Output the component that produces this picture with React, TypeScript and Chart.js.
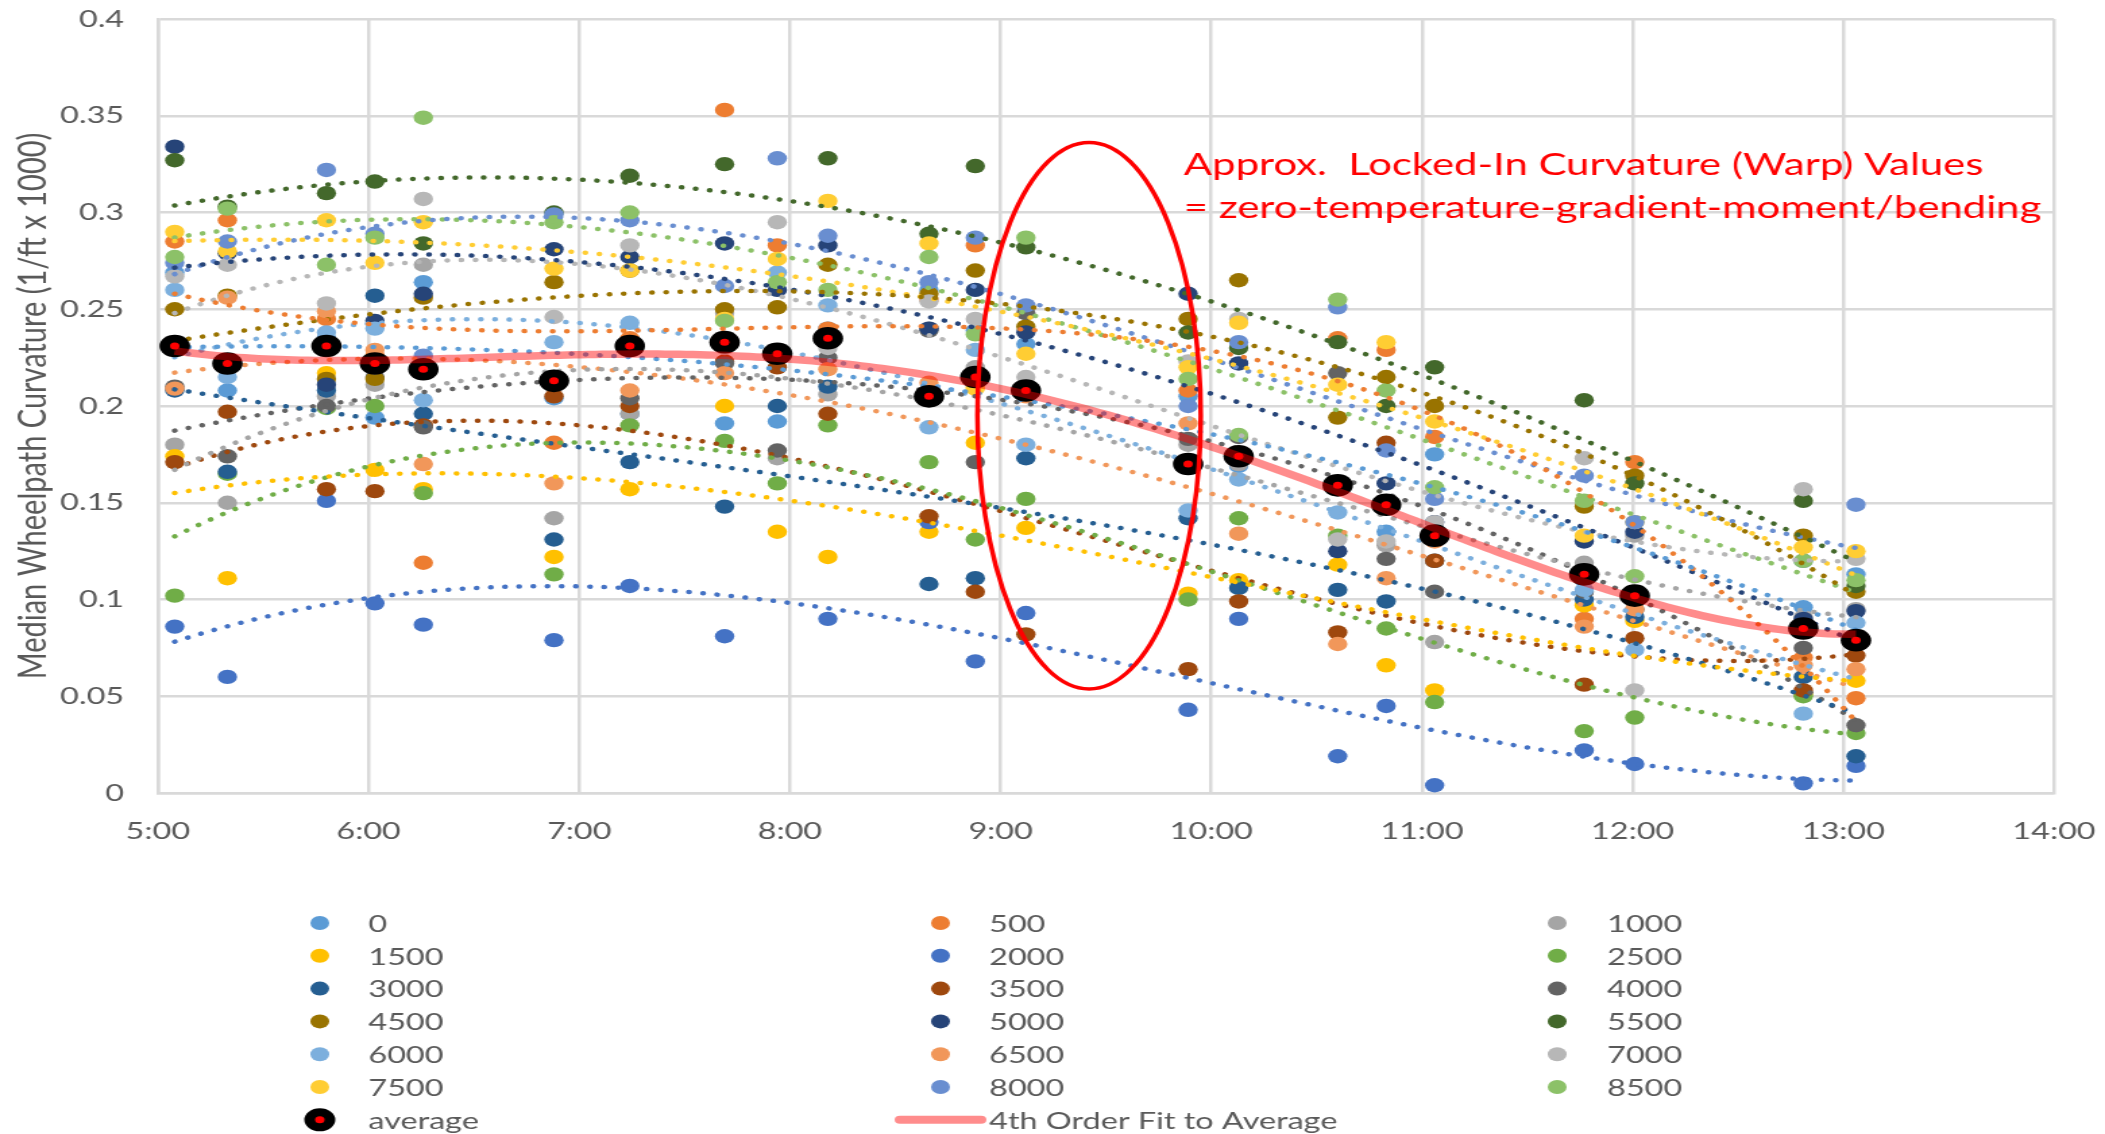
import React, { useEffect, useRef } from "react";
import { Chart, registerables } from "chart.js";

Chart.register(...registerables);

// internal canvas size; the canvas is stretched horizontally to the page width
const CANVAS_W = 1560;
const CANVAS_H = 1134;
const PAGE_W = 2105;

// ---------- data ----------
const times = [5.08, 5.33, 5.8, 6.03, 6.26, 6.88, 7.24, 7.69, 7.94, 8.18, 8.66, 8.88, 9.12, 9.89, 10.13, 10.6, 10.83, 11.06, 11.77, 12.01, 12.81, 13.06];

const seriesNames = ["0", "500", "1000", "1500", "2000", "2500", "3000", "3500", "4000", "4500", "5000", "5500", "6000", "6500", "7000", "7500", "8000", "8500"];
const seriesColors = ["#5B9BD5", "#ED7D31", "#A5A5A5", "#FFC000", "#4472C4", "#70AD47", "#255E91", "#9E480E", "#636363", "#997300", "#264478", "#43682B", "#7CAFDD", "#F1975A", "#B7B7B7", "#FFCD33", "#698ED0", "#8CC168"];

const s0 = [0.269, 0.208, 0.235, 0.194, 0.264, 0.204, 0.196, 0.191, 0.192, 0.24, 0.26, 0.239, 0.232, 0.205, 0.169, 0.16, 0.135, 0.175, 0.11, 0.1, 0.096, 0.113];
const s500 = [0.285, 0.296, 0.245, 0.226, 0.119, 0.181, 0.235, 0.353, 0.283, 0.24, 0.255, 0.283, 0.21, 0.208, 0.175, 0.235, 0.229, 0.184, 0.09, 0.171, 0.07, 0.049];
const s1000 = [0.18, 0.15, 0.205, 0.211, 0.273, 0.142, 0.196, 0.248, 0.173, 0.206, 0.24, 0.22, 0.21, 0.18, 0.17, 0.16, 0.128, 0.078, 0.119, 0.133, 0.091, 0.095];
const s1500 = [0.174, 0.111, 0.217, 0.167, 0.157, 0.122, 0.157, 0.2, 0.135, 0.122, 0.135, 0.181, 0.137, 0.103, 0.11, 0.118, 0.066, 0.053, 0.097, 0.089, 0.051, 0.058];
const s2000 = [0.086, 0.06, 0.151, 0.098, 0.087, 0.079, 0.107, 0.081, null, 0.09, 0.14, 0.068, 0.093, 0.043, 0.09, 0.019, 0.045, 0.004, 0.022, 0.015, 0.005, 0.014];
const s2500 = [0.102, 0.165, 0.199, 0.2, 0.155, 0.113, 0.19, 0.182, 0.16, 0.19, 0.171, 0.131, 0.152, 0.1, 0.142, 0.133, 0.085, 0.047, 0.032, 0.039, 0.05, 0.031];
const s3000 = [0.208, 0.166, 0.208, 0.257, 0.196, 0.131, 0.171, 0.148, 0.2, 0.21, 0.108, 0.111, 0.173, 0.142, 0.106, 0.105, 0.099, 0.12, 0.1, 0.091, 0.06, 0.019];
const s3500 = [0.171, 0.197, 0.157, 0.156, 0.19, 0.205, 0.2, 0.223, 0.22, 0.196, 0.143, 0.104, 0.082, 0.064, 0.099, 0.083, 0.181, 0.12, 0.056, 0.08, 0.053, 0.071];
const s4000 = [0.21, 0.174, 0.2, 0.215, 0.189, 0.215, 0.204, 0.222, 0.177, 0.225, 0.239, 0.171, 0.248, 0.183, 0.184, 0.217, 0.121, 0.104, 0.104, 0.095, 0.075, 0.035];
const s4500 = [0.25, 0.257, 0.214, 0.214, 0.256, 0.264, 0.27, 0.25, 0.251, 0.273, 0.258, 0.27, 0.241, 0.245, 0.265, 0.194, 0.215, 0.2, 0.148, 0.164, 0.133, 0.104];
const s5000 = [0.334, 0.279, 0.211, 0.244, 0.258, 0.281, 0.277, 0.284, 0.26, 0.283, 0.24, 0.26, 0.238, 0.258, 0.222, 0.125, 0.16, 0.14, 0.13, 0.135, 0.09, 0.094];
const s5500 = [0.327, 0.303, 0.31, 0.316, 0.284, 0.3, 0.319, 0.325, null, 0.328, 0.289, 0.324, 0.282, 0.238, 0.23, 0.233, 0.2, 0.22, 0.203, 0.16, 0.151, 0.107];
const s6000 = [0.26, 0.215, 0.238, 0.24, 0.203, 0.233, 0.243, 0.235, 0.269, 0.252, 0.189, 0.229, 0.18, 0.146, 0.162, 0.145, 0.15, 0.135, 0.105, 0.074, 0.041, 0.088];
const s6500 = [0.209, 0.256, 0.249, 0.229, 0.17, 0.16, 0.208, 0.217, 0.225, 0.219, 0.212, 0.21, 0.205, 0.191, 0.134, 0.077, 0.111, 0.13, 0.086, 0.095, 0.066, 0.064];
const s7000 = [0.267, 0.273, 0.253, 0.22, 0.307, 0.246, 0.283, 0.23, 0.295, 0.23, 0.254, 0.245, 0.215, 0.223, 0.245, 0.131, 0.13, 0.14, 0.173, 0.053, 0.157, 0.121];
const s7500 = [0.29, 0.28, 0.296, 0.274, 0.295, 0.271, 0.27, 0.245, 0.276, 0.306, 0.284, 0.209, 0.227, 0.22, 0.243, 0.211, 0.233, 0.192, 0.133, 0.14, 0.127, 0.125];
const s8000 = [0.274, 0.285, 0.322, 0.289, 0.226, 0.299, 0.296, 0.262, 0.328, 0.288, 0.264, 0.287, 0.252, 0.2, 0.233, 0.251, 0.177, 0.152, 0.164, 0.14, 0.12, 0.149];
const s8500 = [0.277, 0.302, 0.273, 0.287, 0.349, 0.295, 0.3, 0.244, 0.264, 0.26, 0.277, 0.237, 0.287, 0.214, 0.185, 0.255, 0.208, 0.158, 0.151, 0.112, 0.12, 0.11];

const average = [0.231, 0.222, 0.231, 0.222, 0.219, 0.213, 0.231, 0.233, 0.227, 0.235, 0.205, 0.215, 0.208, 0.17, 0.174, 0.159, 0.149, 0.133, 0.113, 0.102, 0.085, 0.079];

const seriesValues = [s0, s500, s1000, s1500, s2000, s2500, s3000, s3500, s4000, s4500, s5000, s5500, s6000, s6500, s7000, s7500, s8000, s8500];

const xTicks = [5, 6, 7, 8, 9, 10, 11, 12, 13, 14];
const yTicks = [0, 0.05, 0.1, 0.15, 0.2, 0.25, 0.3, 0.35, 0.4];

const yTitle = "Median Wheelpath Curvature (1/ft x 1000)";
const noteLines = ["Approx.  Locked-In Curvature (Warp) Values", "= zero-temperature-gradient-moment/bending"];
// annotation placement in data coordinates
const noteX = 9.87;
const noteY = [0.3247, 0.3025];
const ellipse = { cx: 9.42, cy: 0.195, rx: 0.53, ry: 0.1412 };

const SERIES_ORDER = 3; // trendline polynomial order
const AVG_ORDER = 4;

// ---------- helpers ----------
function polyFit(xs: number[], ys: (number | null)[], order: number) {
  const c = 9, s = 4;
  const n = order + 1;
  const A: number[][] = Array.from({ length: n }, () => new Array(n + 1).fill(0));
  xs.forEach((x, idx) => {
    const y = ys[idx];
    if (y == null) return;
    const u = (x - c) / s;
    const pw: number[] = [];
    for (let k = 0; k < 2 * n; k++) pw.push(Math.pow(u, k));
    for (let i = 0; i < n; i++) {
      for (let j = 0; j < n; j++) A[i][j] += pw[i + j];
      A[i][n] += pw[i] * y;
    }
  });
  for (let i = 0; i < n; i++) {
    let p = i;
    for (let r = i + 1; r < n; r++) if (Math.abs(A[r][i]) > Math.abs(A[p][i])) p = r;
    [A[i], A[p]] = [A[p], A[i]];
    for (let r = 0; r < n; r++) {
      if (r === i) continue;
      const f = A[r][i] / A[i][i];
      for (let k = i; k <= n; k++) A[r][k] -= f * A[i][k];
    }
  }
  const coef = A.map((row, i) => row[n] / row[i]);
  return (x: number) => {
    const u = (x - c) / s;
    let v = 0;
    for (let k = n - 1; k >= 0; k--) v = v * u + coef[k];
    return v;
  };
}

function fitCurve(xs: number[], ys: (number | null)[], order: number, samples = 160) {
  const valid = xs.filter((_, i) => ys[i] != null);
  const x0 = Math.min(...valid), x1 = Math.max(...valid);
  const f = polyFit(xs, ys, order);
  const pts: { x: number; y: number }[] = [];
  for (let i = 0; i <= samples; i++) {
    const x = x0 + ((x1 - x0) * i) / samples;
    pts.push({ x, y: f(x) });
  }
  return pts;
}

const toPoints = (vals: (number | null)[]) =>
  times.map((t, i) => (vals[i] == null ? null : { x: t, y: vals[i] as number })).filter(Boolean) as { x: number; y: number }[];

const FONT = "Lato";
const GRAY_TEXT = "#595959";
const GRID = "#D9D9D9";

const notePlugin = {
  id: "notePlugin",
  afterDatasetsDraw(chart: any) {
    const { ctx, scales } = chart;
    const x = scales.x, y = scales.y;
    const cx = x.getPixelForValue(ellipse.cx);
    const cy = y.getPixelForValue(ellipse.cy);
    const rx = x.getPixelForValue(ellipse.cx + ellipse.rx) - cx;
    const ry = cy - y.getPixelForValue(ellipse.cy + ellipse.ry);
    ctx.save();
    ctx.strokeStyle = "#FF0000";
    ctx.lineWidth = 3.5;
    ctx.beginPath();
    ctx.ellipse(cx, cy, rx, ry, 0, 0, Math.PI * 2);
    ctx.stroke();
    ctx.fillStyle = "#FF0000";
    ctx.font = `31px ${FONT}`;
    ctx.textBaseline = "middle";
    ctx.textAlign = "left";
    noteLines.forEach((line, i) => {
      ctx.fillText(line, x.getPixelForValue(noteX), y.getPixelForValue(noteY[i]));
    });
    ctx.restore();
  },
};

const legendPlugin = {
  id: "gridLegend",
  afterDraw(chart: any) {
    const { ctx } = chart;
    const markerX = [237, 697, 1154];
    const textX = [273, 733, 1191];
    const rowY0 = 923;
    const rowStep = 32.8;
    const items: { label: string; kind: string; color?: string }[] = [
      ...seriesNames.map((n, i) => ({ label: n, kind: "dot", color: seriesColors[i] })),
      { label: "average", kind: "avg" },
      { label: "4th Order Fit to Average", kind: "line" },
    ];
    ctx.save();
    ctx.font = `24px ${FONT}`;
    ctx.textBaseline = "middle";
    ctx.textAlign = "left";
    items.forEach((it, i) => {
      const col = i % 3;
      const row = Math.floor(i / 3);
      const yy = rowY0 + row * rowStep;
      const mx = markerX[col];
      if (it.kind === "dot") {
        ctx.fillStyle = it.color;
        ctx.beginPath();
        ctx.arc(mx, yy, 7, 0, Math.PI * 2);
        ctx.fill();
      } else if (it.kind === "avg") {
        ctx.fillStyle = "#000000";
        ctx.beginPath();
        ctx.arc(mx, yy, 11.5, 0, Math.PI * 2);
        ctx.fill();
        ctx.fillStyle = "#FF0000";
        ctx.beginPath();
        ctx.arc(mx, yy, 3.5, 0, Math.PI * 2);
        ctx.fill();
      } else {
        ctx.strokeStyle = "rgba(255,0,0,0.45)";
        ctx.lineWidth = 8;
        ctx.lineCap = "round";
        ctx.beginPath();
        ctx.moveTo(textX[col] - 66, yy);
        ctx.lineTo(textX[col] - 6, yy);
        ctx.stroke();
      }
      ctx.fillStyle = GRAY_TEXT;
      ctx.fillText(it.label, textX[col], yy + 1);
    });
    ctx.restore();
  },
};

export default function App() {
  const canvasRef = useRef<HTMLCanvasElement | null>(null);

  useEffect(() => {
    if (!canvasRef.current) return;
    Chart.defaults.font.family = FONT;

    const datasets: any[] = [];
    seriesValues.forEach((vals, i) => {
      datasets.push({
        label: seriesNames[i],
        data: toPoints(vals),
        backgroundColor: seriesColors[i],
        borderWidth: 0,
        pointRadius: 7.2,
        pointHoverRadius: 7.2,
        order: 4 + (17 - i),
      });
    });
    seriesValues.forEach((vals, i) => {
      datasets.push({
        label: seriesNames[i] + " trend",
        data: fitCurve(times, vals, SERIES_ORDER),
        showLine: true,
        borderColor: seriesColors[i],
        borderWidth: 4.5,
        borderDash: [0.01, 10.5],
        borderCapStyle: "round",
        pointRadius: 0,
        pointHoverRadius: 0,
        fill: false,
        order: 3,
      });
    });
    datasets.push({
      label: "average",
      data: toPoints(average),
      backgroundColor: "#000000",
      borderWidth: 0,
      pointRadius: 11.3,
      pointHoverRadius: 11.3,
      order: 2,
    });
    datasets.push({
      label: "4th Order Fit to Average",
      data: fitCurve(times, average, AVG_ORDER, 240),
      showLine: true,
      borderColor: "rgba(255,0,0,0.45)",
      borderWidth: 7.5,
      pointRadius: 0,
      pointHoverRadius: 0,
      fill: false,
      order: 1,
    });
    datasets.push({
      label: "average centre",
      data: toPoints(average),
      backgroundColor: "#FF0000",
      borderWidth: 0,
      pointRadius: 3.5,
      pointHoverRadius: 3.5,
      order: 0,
    });

    const chart = new Chart(canvasRef.current, {
      type: "scatter",
      data: { datasets },
      options: {
        responsive: false,
        animation: false,
        devicePixelRatio: 1,
        events: [],
        layout: { autoPadding: false, padding: { left: 0, right: 37.8, top: 19, bottom: 281 } },
        plugins: { legend: { display: false }, tooltip: { enabled: false } },
        scales: {
          x: {
            type: "linear",
            min: 5,
            max: 14,
            afterBuildTicks: (s: any) => {
              s.ticks = xTicks.map((v) => ({ value: v }));
            },
            afterFit: (s: any) => {
              s.height = 60;
              s.paddingLeft = 0;
              s.paddingRight = 0;
            },
            ticks: {
              autoSkip: false,
              maxRotation: 0,
              padding: 24,
              color: GRAY_TEXT,
              font: { family: FONT, size: 24 },
              callback: (v: any) => `${v}:00`,
            },
            grid: { color: GRID, lineWidth: 2.5, drawTicks: false },
            border: { display: true, color: GRID, width: 2.5 },
          },
          y: {
            type: "linear",
            min: 0,
            max: 0.4,
            afterBuildTicks: (s: any) => {
              s.ticks = yTicks.map((v) => ({ value: v }));
            },
            afterFit: (s: any) => {
              s.width = 117;
              s.paddingTop = 0;
              s.paddingBottom = 0;
            },
            ticks: {
              padding: 25,
              color: GRAY_TEXT,
              font: { family: FONT, size: 24 },
              callback: (v: any) => String(Number(Number(v).toFixed(2))),
            },
            grid: { color: GRID, lineWidth: 2.5, drawTicks: false },
            border: { display: true, color: GRID, width: 2.5 },
            title: {
              display: true,
              text: yTitle,
              color: GRAY_TEXT,
              font: { family: FONT, size: 29 },
              padding: { top: 7.6, bottom: 0 },
            },
          },
        },
      },
      plugins: [notePlugin, legendPlugin],
    } as any);

    return () => chart.destroy();
  }, []);

  return (
    <div
      style={{
        position: "fixed",
        left: 0,
        top: 0,
        width: PAGE_W,
        height: CANVAS_H,
        background: "#ffffff",
        overflow: "hidden",
      }}
    >
      <div style={{ transform: `scaleX(${PAGE_W / CANVAS_W})`, transformOrigin: "0 0", width: CANVAS_W, height: CANVAS_H }}>
        <canvas ref={canvasRef} width={CANVAS_W} height={CANVAS_H} style={{ display: "block" }} />
      </div>
    </div>
  );
}
